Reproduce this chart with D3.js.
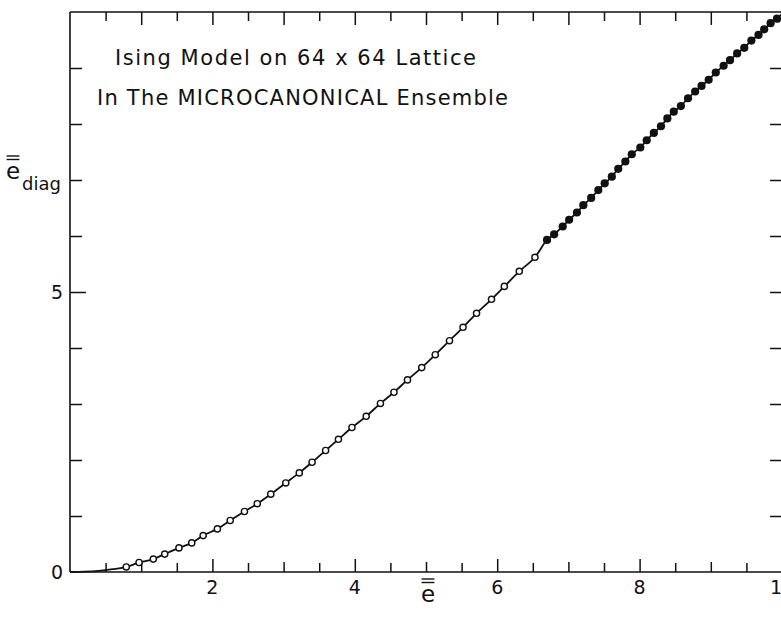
<!DOCTYPE html>
<html>
<head>
<meta charset="utf-8">
<script src="https://cdn.jsdelivr.net/npm/d3@7"></script>
<style>
  html, body { margin: 0; padding: 0; background: #fff; }
  svg { display: block; }
  text { font-family: "DejaVu Sans", "Liberation Sans", sans-serif; fill: #111; }
</style>
</head>
<body>
<script>
// ---------------- data ----------------
const openX = [0.79, 0.97, 1.17, 1.33, 1.53, 1.71, 1.87, 2.07, 2.25, 2.45, 2.63, 2.82, 3.03, 3.22, 3.40, 3.59,
               3.77, 3.96, 4.16, 4.36, 4.55, 4.74, 4.94, 5.13, 5.33, 5.52, 5.71, 5.92, 6.10, 6.31, 6.53];
const openY = [0.09, 0.17, 0.23, 0.32, 0.43, 0.52, 0.65, 0.77, 0.92, 1.08, 1.22, 1.39, 1.59, 1.77, 1.96, 2.17,
               2.37, 2.58, 2.78, 3.01, 3.21, 3.43, 3.65, 3.88, 4.13, 4.37, 4.62, 4.87, 5.10, 5.37, 5.62];
const filledX = [6.70, 6.80, 6.92, 7.01, 7.12, 7.21, 7.32, 7.42, 7.51, 7.61, 7.70, 7.80, 7.89, 8.01, 8.10, 8.20,
                 8.30, 8.39, 8.48, 8.58, 8.68, 8.78, 8.87, 8.97, 9.07, 9.18, 9.27, 9.37, 9.47, 9.57, 9.67, 9.75, 9.84, 9.93];
const filledY = [5.93, 6.03, 6.17, 6.29, 6.42, 6.55, 6.68, 6.82, 6.94, 7.06, 7.20, 7.33, 7.46, 7.58, 7.71, 7.84,
                 7.96, 8.10, 8.22, 8.32, 8.46, 8.58, 8.68, 8.79, 8.92, 9.04, 9.14, 9.26, 9.36, 9.49, 9.59, 9.69, 9.80, 9.88];
// line-only points before the first and after the last marker
const headX = [0.0, 0.2, 0.4, 0.6];
const headY = [0.0, 0.005, 0.02, 0.05];
const tailX = [10.0];
const tailY = [9.97];

const xMajorTicks = [1, 2, 3, 4, 5, 6, 7, 8, 9];
const xMinorTicks = [0.5, 1.5, 2.5, 3.5, 4.5, 5.5, 6.5, 7.5, 8.5, 9.5];
const xTickLabels = ["2", "4", "6", "8", "10"];
const xTickLabelValues = [2, 4, 6, 8, 10];
const yTicks = [1, 2, 3, 4, 5, 6, 7, 8, 9];
const yTickLabels = ["0", "5"];
const yTickLabelValues = [0, 5];
const titleLines = ["Ising Model on 64 x 64 Lattice", "In The MICROCANONICAL Ensemble"];

// ---------------- drawing ----------------
const W = 781, H = 623;
const svg = d3.select("body").append("svg").attr("width", W).attr("height", H);

const x = d3.scaleLinear().domain([0, 10]).range([70, 782]);
const y = d3.scaleLinear().domain([0, 10]).range([572, 12]);

const ink = "#111";

// frame lines
const frame = svg.append("g").attr("stroke", ink).attr("stroke-width", 1.6).attr("fill", "none");
frame.append("line").attr("x1", x(0)).attr("x2", x(10)).attr("y1", y(0)).attr("y2", y(0));
frame.append("line").attr("x1", x(0)).attr("x2", x(10)).attr("y1", y(10)).attr("y2", y(10));
frame.append("line").attr("x1", x(0)).attr("x2", x(0)).attr("y1", y(0)).attr("y2", y(10));
frame.append("line").attr("x1", x(10)).attr("x2", x(10)).attr("y1", y(0)).attr("y2", y(10));

function styleAxis(g) {
  g.select(".domain").remove();
  g.selectAll(".tick line").attr("stroke", ink).attr("stroke-width", 1.5);
  g.selectAll(".tick text").remove();
}

// bottom ticks (inward = upward)
svg.append("g").attr("transform", `translate(0,${y(0)})`)
  .call(d3.axisBottom(x).tickValues(xMajorTicks.filter(v => v % 2 === 0)).tickSize(-13)).call(styleAxis);
svg.append("g").attr("transform", `translate(0,${y(0)})`)
  .call(d3.axisBottom(x).tickValues(xMajorTicks.filter(v => v % 2 === 1)).tickSize(-10)).call(styleAxis);
svg.append("g").attr("transform", `translate(0,${y(0)})`)
  .call(d3.axisBottom(x).tickValues(xMinorTicks).tickSize(-9)).call(styleAxis);
// top ticks (inward = downward)
svg.append("g").attr("transform", `translate(0,${y(10)})`)
  .call(d3.axisTop(x).tickValues(xMajorTicks).tickSize(-13)).call(styleAxis);
svg.append("g").attr("transform", `translate(0,${y(10)})`)
  .call(d3.axisTop(x).tickValues(xMinorTicks).tickSize(-9)).call(styleAxis);
// left ticks (inward = rightward)
svg.append("g").attr("transform", `translate(${x(0)},0)`)
  .call(d3.axisLeft(y).tickValues(yTicks.filter(v => v !== 5)).tickSize(-12)).call(styleAxis);
svg.append("g").attr("transform", `translate(${x(0)},0)`)
  .call(d3.axisLeft(y).tickValues([5]).tickSize(-16)).call(styleAxis);
// right ticks (inward = leftward)
svg.append("g").attr("transform", `translate(${x(10)},0)`)
  .call(d3.axisRight(y).tickValues(yTicks).tickSize(-12)).call(styleAxis);

// tick labels
svg.append("g").selectAll("text").data(xTickLabels).join("text")
  .attr("x", (d, i) => x(xTickLabelValues[i]))
  .attr("y", 594)
  .attr("text-anchor", "middle")
  .attr("font-size", 19)
  .text(d => d);
svg.append("g").selectAll("text").data(yTickLabels).join("text")
  .attr("x", 63)
  .attr("y", (d, i) => y(yTickLabelValues[i]) + 7)
  .attr("text-anchor", "end")
  .attr("font-size", 19)
  .text(d => d);

// curve
const linePts = [];
headX.forEach((v, i) => linePts.push([v, headY[i]]));
openX.forEach((v, i) => linePts.push([v, openY[i]]));
filledX.forEach((v, i) => linePts.push([v, filledY[i]]));
tailX.forEach((v, i) => linePts.push([v, tailY[i]]));

svg.append("path")
  .datum(linePts)
  .attr("fill", "none")
  .attr("stroke", ink)
  .attr("stroke-width", 1.8)
  .attr("d", d3.line().x(d => x(d[0])).y(d => y(d[1])).curve(d3.curveMonotoneX));

// open markers
svg.append("g").selectAll("circle").data(openX).join("circle")
  .attr("cx", d => x(d))
  .attr("cy", (d, i) => y(openY[i]))
  .attr("r", 3.1)
  .attr("fill", "#fff")
  .attr("stroke", ink)
  .attr("stroke-width", 1.4);

// filled markers
svg.append("g").selectAll("circle").data(filledX).join("circle")
  .attr("cx", d => x(d))
  .attr("cy", (d, i) => y(filledY[i]))
  .attr("r", 4.1)
  .attr("fill", ink);

// title text
svg.append("text").attr("x", 115).attr("y", 65).attr("font-size", 21)
  .attr("textLength", 361).attr("lengthAdjust", "spacing").text(titleLines[0]);
svg.append("text").attr("x", 97).attr("y", 105).attr("font-size", 21)
  .attr("textLength", 411).attr("lengthAdjust", "spacing").text(titleLines[1]);

// axis labels: e with double overbar
function ebar(g, cx, baseline, size) {
  g.append("text").attr("x", cx).attr("y", baseline).attr("text-anchor", "middle")
    .attr("font-size", size).text("e");
  const hw = size * 0.28;
  const top = baseline - size * 1.0;
  [top, top + 3.5].forEach(yy => {
    g.append("line").attr("x1", cx - hw).attr("x2", cx + hw).attr("y1", yy).attr("y2", yy)
      .attr("stroke", ink).attr("stroke-width", 1.4);
  });
}
const xl = svg.append("g");
ebar(xl, 428, 602, 23);
const yl = svg.append("g");
ebar(yl, 13, 179, 23);
yl.append("text").attr("x", 22).attr("y", 190).attr("font-size", 18).text("diag");
</script>
</body>
</html>
